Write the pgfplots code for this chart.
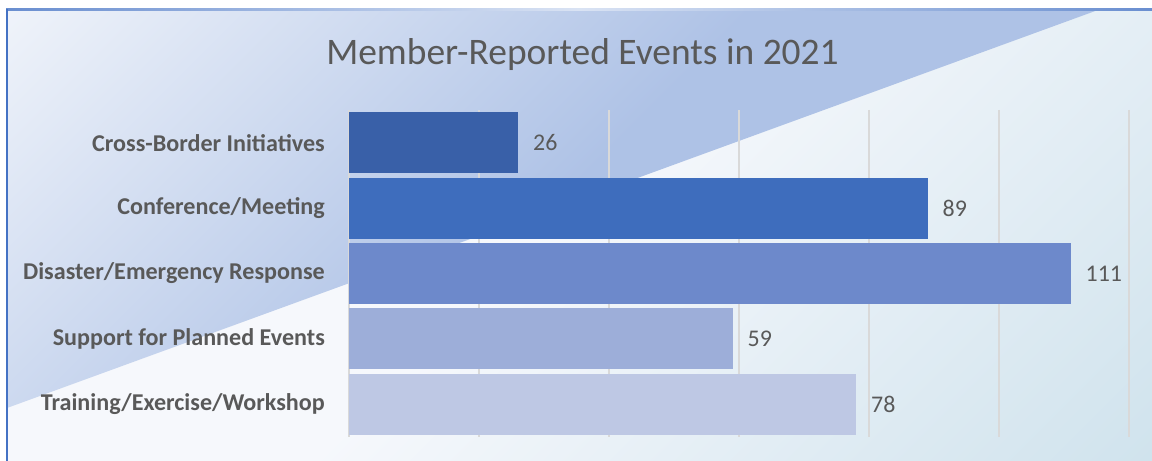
\documentclass[border=0pt]{standalone}
\usepackage{pgfplots}
\pgfplotsset{compat=1.18}
\usepackage{fontspec}
\setmainfont{Carlito}
\definecolor{txt}{HTML}{595959}
\definecolor{gridc}{HTML}{D9D9D9}
\definecolor{cA}{HTML}{3960A8}
\definecolor{cB}{HTML}{3E6DBD}
\definecolor{cC}{HTML}{6D89CB}
\definecolor{cD}{HTML}{9DAED9}
\definecolor{cE}{HTML}{BEC8E4}
\definecolor{bgLight}{HTML}{F6F8FC}
\definecolor{bgDark}{HTML}{D0E3ED}
\definecolor{triLight}{HTML}{EFF3FA}
\definecolor{triDark}{HTML}{AEC2E6}
\definecolor{border}{HTML}{4472C4}
\pgfdeclareverticalshading{trishade}{100bp}{color(0bp)=(triDark); color(50bp)=(triDark); color(85.4bp)=(triLight); color(100bp)=(triLight)}
\pgfdeclareverticalshading{bgshade}{100bp}{color(0bp)=(bgDark); color(14.6bp)=(bgDark); color(52bp)=(bgLight); color(100bp)=(bgLight)}
\begin{document}
\begin{tikzpicture}[x=1bp,y=1bp]
\useasboundingbox (0,0) rectangle (1152,461);
\fill[white] (0,0) rectangle (1152,461);
\shade[shading=bgshade, shading angle=45] (7,0) rectangle (1152,451);
\shade[shading=trishade, shading angle=45] (7,451) -- (1098,451) -- (7,53) -- cycle;
\shade[left color=border!80, right color=border!80, middle color=border!20] (6,450) rectangle (1152,452.5);
\fill[border] (5.5,0) rectangle (8,452);
\begin{axis}[
  at={(349bp,24bp)}, anchor=south west,
  width=780bp, height=327bp, scale only axis,
  xbar, y dir=reverse,
  xmin=0, xmax=120, ymin=-0.5, ymax=4.5,
  bar width=0.93, bar shift=0pt,
  xtick={0,20,...,120}, xticklabels={},
  xmajorgrids, major grid style={draw=gridc, line width=1.5bp},
  ytick={0,...,4},
  yticklabels={Cross-Border Initiatives, Conference/Meeting, Disaster/Emergency Response, Support for Planned Events, Training/Exercise/Workshop},
  yticklabel style={font=\bfseries\fontsize{24.2}{28}\selectfont, text=txt, inner sep=0pt, xshift=-24bp},
  major tick length=0pt,
  axis line style={draw=none},
  /pgf/number format/assume math mode=true,
  nodes near coords,
  nodes near coords align={horizontal},
  every node near coord/.append style={font=\fontsize{24}{28}\selectfont, text=txt, anchor=west, inner sep=0pt, xshift=15bp},
]
\addplot[fill=cA, draw=none] coordinates {(26,0)};
\addplot[fill=cB, draw=none] coordinates {(89,1)};
\addplot[fill=cC, draw=none] coordinates {(111,2)};
\addplot[fill=cD, draw=none] coordinates {(59,3)};
\addplot[fill=cE, draw=none] coordinates {(78,4)};
\end{axis}
\node[font=\fontsize{37.6}{44}\selectfont, text=txt, anchor=base, inner sep=0pt] at (582.5,396) {Member-Reported Events in 2021};
\end{tikzpicture}
\end{document}
